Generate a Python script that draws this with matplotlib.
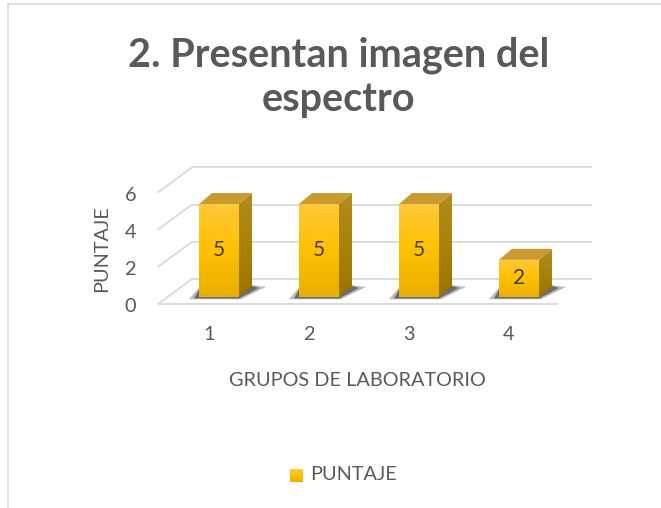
import matplotlib
matplotlib.use("Agg")
import matplotlib.pyplot as plt
import numpy as np
from matplotlib.patches import Polygon
from matplotlib.colors import LinearSegmentedColormap

# ---- data ----
categories = ["1", "2", "3", "4"]
puntaje = [5, 5, 5, 2]
yticks = [0, 2, 4, 6]
title_lines = ["2. Presentan imagen del", "espectro"]
x_label = "GRUPOS DE LABORATORIO"
y_label = "PUNTAJE"
legend_label = "PUNTAJE"

W, H = 661, 508
fig = plt.figure(figsize=(W / 100, H / 100), dpi=100)
fig.patch.set_facecolor("white")

FONT = "Lato"
GRAY = "#595959"
FS = 14.3

def fx(px):
    return px / W

def fy(py):
    return 1 - py / H

# axes placement in pixels (data: x index, y value)
XL, XR = -0.9, 3.8
YB, YT = -0.8, 7.4
PXX, PXY = 100.0, 18.6
X0, Y0 = 219.0, 297.0
left_px = X0 + XL * PXX
right_px = X0 + XR * PXX
bot_px = Y0 - YB * PXY
top_px = Y0 - YT * PXY
ax = fig.add_axes([fx(left_px), fy(bot_px), (right_px - left_px) / W, (bot_px - top_px) / H])
ax.set_xlim(XL, XR)
ax.set_ylim(YB, YT)
ax.axis("off")

# 3D style offsets (data units)
FRONT = (-0.09, -0.376)
BACK = (0.25, 0.97)
DEPTH = (0.13, 0.59)
x_left, x_right = -0.52, 3.48
GRID = "#D9D9D9"

# walls / grid
for v in yticks:
    ax.plot([x_left + BACK[0], x_right + BACK[0]], [v + BACK[1], v + BACK[1]],
            color=GRID, lw=1.3, solid_capstyle="butt", zorder=1)
    ax.plot([x_left + FRONT[0], x_left + BACK[0]], [v + FRONT[1], v + BACK[1]],
            color=GRID, lw=1.3, solid_capstyle="butt", zorder=1)
ax.plot([x_left + FRONT[0], x_right + FRONT[0]], [FRONT[1], FRONT[1]],
        color=GRID, lw=1.3, solid_capstyle="butt", zorder=1)

# bars
xs = np.arange(len(categories))
bw = 0.4
front_cmap = LinearSegmentedColormap.from_list("f", ["#E9AE00", "#FFC000", "#FFC93A"])
side_cmap = LinearSegmentedColormap.from_list("s", ["#9A7300", "#A98308", "#B18C22"])

# soft shadows on the floor
for c, v in zip(xs, puntaje):
    x0 = c - bw / 2
    x1 = c + bw / 2
    outer = [(x0 - 0.1, -0.12), (x1 + 0.02, -0.12), (x1 + DEPTH[0] + 0.14, DEPTH[1] - 0.05),
             (x1 + DEPTH[0], DEPTH[1] + 0.05), (x0, 0.5)]
    inner = [(x0 - 0.05, -0.08), (x1, -0.08), (x1 + DEPTH[0] + 0.07, DEPTH[1] - 0.1),
             (x1 + DEPTH[0], DEPTH[1]), (x0, 0.4)]
    ax.add_patch(Polygon(outer, closed=True, facecolor="#3a3a3a", edgecolor="none",
                         alpha=0.35, zorder=2))
    ax.add_patch(Polygon(inner, closed=True, facecolor="#2a2a2a", edgecolor="none",
                         alpha=0.55, zorder=2))

bars = ax.bar(xs, puntaje, width=bw, bottom=0, color="none", edgecolor="none", zorder=4)
grad = np.linspace(0, 1, 256).reshape(-1, 1)
for rect, c, v in zip(bars, xs, puntaje):
    x0 = c - bw / 2
    x1 = c + bw / 2
    im = ax.imshow(grad, cmap=front_cmap, origin="lower", aspect="auto",
                   extent=[x0, x1, 0, v], zorder=4, interpolation="bilinear")
    im.set_clip_path(rect)
    side = Polygon([(x1, 0), (x1 + DEPTH[0], DEPTH[1]), (x1 + DEPTH[0], v + DEPTH[1]), (x1, v)],
                   closed=True, facecolor="none", edgecolor="none", zorder=4)
    ax.add_patch(side)
    im2 = ax.imshow(grad, cmap=side_cmap, origin="lower", aspect="auto",
                    extent=[x1, x1 + DEPTH[0], 0, v + DEPTH[1]], zorder=4, interpolation="bilinear")
    im2.set_clip_path(side)
    top = Polygon([(x0, v), (x1, v), (x1 + DEPTH[0], v + DEPTH[1]), (x0 + DEPTH[0], v + DEPTH[1])],
                  closed=True, facecolor="#C89A30", edgecolor="none", zorder=5)
    ax.add_patch(top)
    ax.text(c, v / 2, str(v), ha="center", va="center", fontsize=15,
            family=FONT, color="#404040", zorder=6)

# tick labels
for v in yticks:
    ax.text(-0.83, v + FRONT[1] - 0.15, str(v), ha="right", va="center",
            fontsize=FS, family=FONT, color=GRAY)
for c, lab in zip(xs, categories):
    ax.text(c - 0.1, -2.04, lab, ha="center", va="center",
            fontsize=FS, family=FONT, color=GRAY)

# axis titles
fig.text(fx(357.5), fy(380.5), x_label, ha="center", va="center", fontsize=FS,
         family=FONT, color=GRAY)
fig.text(fx(102), fy(249), y_label, ha="center", va="center", rotation=90,
         fontsize=FS, family=FONT, color=GRAY)

# title
fig.text(fx(339), fy(66), title_lines[0], ha="center", va="baseline", fontsize=28.5,
         family=FONT, fontweight="bold", color=GRAY)
fig.text(fx(338.5), fy(111), title_lines[1], ha="center", va="baseline", fontsize=28.5,
         family=FONT, fontweight="bold", color=GRAY)

# legend
lax = fig.add_axes([fx(290), fy(482), 13 / W, 13 / H])
lax.imshow(grad, cmap=front_cmap, origin="lower", aspect="auto", extent=[0, 1, 0, 1])
lax.axis("off")
fig.text(fx(310), fy(475), legend_label, ha="left", va="center", fontsize=FS,
         family=FONT, color=GRAY)

# chart frame
fig.add_artist(plt.Line2D([fx(7.5), fx(W)], [fy(3.5), fy(3.5)], color=GRID, lw=1.2))
fig.add_artist(plt.Line2D([fx(7.5), fx(7.5)], [fy(3.5), fy(H)], color=GRID, lw=1.2))

fig.savefig("out.png", dpi=100, facecolor="white")
